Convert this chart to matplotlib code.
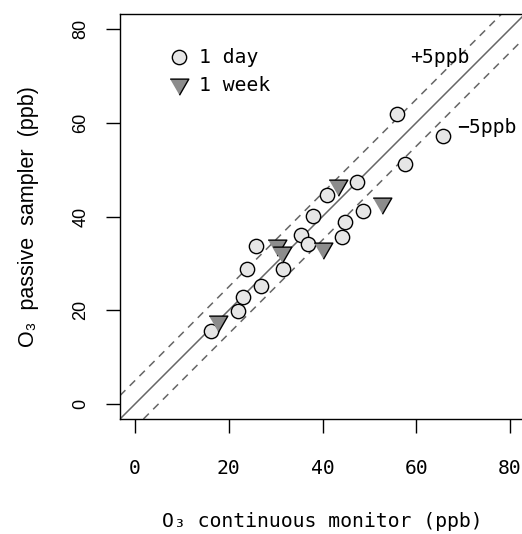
import matplotlib
matplotlib.use("Agg")
import matplotlib.pyplot as plt
import numpy as np

# ---- data ----
day_x = [55.8, 65.6, 57.6, 47.3, 40.9, 38.0, 48.7, 44.9, 44.1, 35.4, 36.8, 25.8, 31.5, 23.8, 26.9, 23.0, 21.9, 16.2]
day_y = [61.9, 57.2, 51.3, 47.4, 44.6, 40.2, 41.2, 38.9, 35.7, 36.1, 34.1, 33.8, 28.9, 28.7, 25.2, 22.9, 19.9, 15.6]
week_x = [43.4, 52.6, 40.0, 30.2, 31.3, 17.6]
week_y = [46.7, 42.9, 33.2, 33.9, 32.5, 17.8]
ticks = [0, 20, 40, 60, 80]
offsets = [5, -5]
offset_labels = ["+5ppb", "\u22125ppb"]
offset_label_pos = [(65, 74), (75, 59)]
legend_labels = ["1 day", "1 week"]

W, H = 522, 534
fig = plt.figure(figsize=(W / 100, H / 100), dpi=100)
ax = fig.add_axes([120 / W, (H - 419) / H, 405 / W, 405 / H])
ax.set_xlim(-3.2, 83.2)
ax.set_ylim(-3.2, 83.2)

mono = "DejaVu Sans Mono"
sans = ["Liberation Sans", "DejaVu Sans"]
fs = 14.2

# reference lines
ax.axline((0, 0), slope=1, color="#666666", lw=1.1, zorder=1)
for off in offsets:
    ax.axline((0, off), slope=1, color="#666666", lw=1.1, ls=(0, (5, 4)), zorder=1)

tri = [(-1, 0.577), (1, 0.577), (0, -1.155)]
h1, = ax.plot(day_x, day_y, ls="none", marker="o", ms=10.3, mfc="#e6e6e6",
              mec="black", mew=1.0, zorder=3)
h2, = ax.plot(week_x, week_y, ls="none", marker=tri, ms=15.5, mfc="#8c8c8c",
              mec="black", mew=1.0, zorder=3)

for lab, (tx, ty) in zip(offset_labels, offset_label_pos):
    ax.text(tx, ty, lab, ha="center", va="center", fontsize=fs, family=mono)

leg = ax.legend([h1, h2], legend_labels, loc="upper left",
                bbox_to_anchor=(0.1225, 0.915), frameon=False,
                prop={"family": mono, "size": fs}, handlelength=1.0,
                handletextpad=0.5, borderpad=0, borderaxespad=0,
                labelspacing=0.42)

ax.set_xticks(ticks)
ax.set_yticks(ticks)
ax.tick_params(direction="out", length=10, width=1.0)
ax.tick_params(axis="x", pad=19)
ax.tick_params(axis="y", pad=12)
for t in ax.get_xticklabels():
    t.set_fontfamily(mono)
    t.set_fontsize(fs)
for t in ax.get_yticklabels():
    t.set_fontfamily(sans)
    t.set_fontsize(13)
    t.set_rotation(90)
    t.set_va("center")

for s in ax.spines.values():
    s.set_linewidth(1.0)

ax.set_xlabel("O\u2083 continuous monitor (ppb)", family=mono, fontsize=fs, labelpad=24)
ax.set_ylabel("O\u2083  passive  sampler  (ppb)", family=sans, fontsize=15.5, labelpad=24)

fig.savefig("out.png", dpi=100)
